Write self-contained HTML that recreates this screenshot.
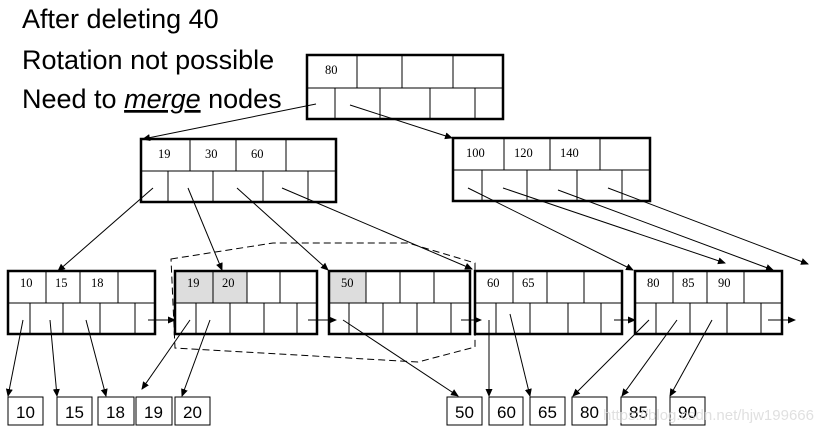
<!DOCTYPE html>
<html><head><meta charset="utf-8"><style>
html,body{margin:0;padding:0;background:#fff;}
svg{display:block;}
.k{font-family:"Liberation Serif",serif;font-size:12.5px;fill:#000;}
.t{font-family:"Liberation Sans",sans-serif;font-size:27px;fill:#000;}
.d{font-family:"Liberation Sans",sans-serif;font-size:17px;fill:#000;}
</style></head><body>
<svg width="835" height="437" viewBox="0 0 835 437" xmlns="http://www.w3.org/2000/svg">
<defs><marker id="a" markerWidth="8" markerHeight="8" refX="7" refY="4" orient="auto" markerUnits="userSpaceOnUse"><path d="M0,0.5 L8,4 L0,7.5 Z" fill="#000"/></marker></defs>
<text class="t" x="22" y="28">After deleting 40</text>
<text class="t" x="22" y="69">Rotation not possible</text>
<text class="t" x="22" y="108">Need to <tspan font-style="italic" text-decoration="underline">merge</tspan> nodes</text>

<g stroke="#000" fill="none">
<g stroke-width="1"><line x1="307" y1="88" x2="503" y2="88"/>
<line x1="357" y1="55" x2="357" y2="88"/><line x1="402" y1="55" x2="402" y2="88"/><line x1="453" y1="55" x2="453" y2="88"/>
<line x1="335" y1="88" x2="335" y2="119"/><line x1="380" y1="88" x2="380" y2="119"/><line x1="430" y1="88" x2="430" y2="119"/><line x1="475" y1="88" x2="475" y2="119"/></g>
<rect x="307" y="55" width="196" height="64" stroke-width="2.5"/>
<g stroke-width="1"><line x1="141" y1="171" x2="336" y2="171"/>
<line x1="190" y1="139" x2="190" y2="171"/><line x1="236" y1="139" x2="236" y2="171"/><line x1="286" y1="139" x2="286" y2="171"/>
<line x1="168" y1="171" x2="168" y2="202"/><line x1="213" y1="171" x2="213" y2="202"/><line x1="263" y1="171" x2="263" y2="202"/><line x1="308" y1="171" x2="308" y2="202"/></g>
<rect x="141" y="139" width="195" height="63" stroke-width="2.5"/>
<g stroke-width="1"><line x1="453" y1="170" x2="650" y2="170"/>
<line x1="504" y1="138" x2="504" y2="170"/><line x1="550" y1="138" x2="550" y2="170"/><line x1="600" y1="138" x2="600" y2="170"/>
<line x1="482" y1="170" x2="482" y2="201"/><line x1="527" y1="170" x2="527" y2="201"/><line x1="577" y1="170" x2="577" y2="201"/><line x1="622" y1="170" x2="622" y2="201"/></g>
<rect x="453" y="138" width="197" height="63" stroke-width="2.5"/>

<rect x="175" y="271" width="72" height="32" fill="#ddd" stroke="none"/>
<rect x="329" y="271" width="37" height="32" fill="#ddd" stroke="none"/>
<g stroke-width="1">
<line x1="8" y1="303" x2="155" y2="303"/><line x1="46" y1="271" x2="46" y2="303"/><line x1="80" y1="271" x2="80" y2="303"/><line x1="118" y1="271" x2="118" y2="303"/>
<line x1="30" y1="303" x2="30" y2="334"/><line x1="63" y1="303" x2="63" y2="334"/><line x1="100" y1="303" x2="100" y2="334"/><line x1="135" y1="303" x2="135" y2="334"/>
<line x1="175" y1="303" x2="317" y2="303"/><line x1="213" y1="271" x2="213" y2="303"/><line x1="247" y1="271" x2="247" y2="303"/><line x1="280" y1="271" x2="280" y2="303"/>
<line x1="196" y1="303" x2="196" y2="334"/><line x1="230" y1="303" x2="230" y2="334"/><line x1="264" y1="303" x2="264" y2="334"/><line x1="297" y1="303" x2="297" y2="334"/>
<line x1="329" y1="303" x2="470" y2="303"/><line x1="366" y1="271" x2="366" y2="303"/><line x1="400" y1="271" x2="400" y2="303"/><line x1="434" y1="271" x2="434" y2="303"/>
<line x1="349" y1="303" x2="349" y2="334"/><line x1="383" y1="303" x2="383" y2="334"/><line x1="417" y1="303" x2="417" y2="334"/><line x1="451" y1="303" x2="451" y2="334"/>
<line x1="475" y1="303" x2="622" y2="303"/><line x1="513" y1="271" x2="513" y2="303"/><line x1="547" y1="271" x2="547" y2="303"/><line x1="584" y1="271" x2="584" y2="303"/>
<line x1="496" y1="303" x2="496" y2="334"/><line x1="530" y1="303" x2="530" y2="334"/><line x1="568" y1="303" x2="568" y2="334"/><line x1="601" y1="303" x2="601" y2="334"/>
<line x1="635" y1="303" x2="782" y2="303"/><line x1="673" y1="271" x2="673" y2="303"/><line x1="707" y1="271" x2="707" y2="303"/><line x1="744" y1="271" x2="744" y2="303"/>
<line x1="656" y1="303" x2="656" y2="334"/><line x1="690" y1="303" x2="690" y2="334"/><line x1="727" y1="303" x2="727" y2="334"/><line x1="761" y1="303" x2="761" y2="334"/>
</g>
<g stroke-width="2.5">
<rect x="8" y="271" width="147" height="63"/>
<rect x="175" y="271" width="142" height="63"/>
<rect x="329" y="271" width="141" height="63"/>
<rect x="475" y="271" width="147" height="63"/>
<rect x="635" y="271" width="147" height="63"/>
</g>
<g stroke-width="1">
<rect x="8" y="397" width="35" height="28"/><rect x="57" y="397" width="35" height="28"/><rect x="98" y="397" width="36" height="28"/>
<rect x="136" y="397" width="36" height="28"/><rect x="175" y="397" width="35" height="28"/>
<rect x="447" y="397" width="35" height="28"/><rect x="489" y="397" width="34" height="28"/><rect x="530" y="397" width="35" height="28"/>
<rect x="572" y="397" width="35" height="28"/><rect x="621" y="397" width="35" height="28"/><rect x="670" y="397" width="35" height="28"/>
</g>
<polygon points="171,259 273,243 408,243 475,263 475,347 418,362 175,348" stroke-width="1" stroke-dasharray="7,4"/>
<g stroke-width="1" marker-end="url(#a)">
<line x1="316" y1="104" x2="143" y2="139"/><line x1="350" y1="105" x2="452" y2="138"/>
<line x1="153" y1="188" x2="58" y2="271"/><line x1="188" y1="188" x2="222" y2="270"/><line x1="237" y1="188" x2="328" y2="270"/><line x1="282" y1="188" x2="472" y2="269"/>
<line x1="468" y1="188" x2="633" y2="270"/><line x1="503" y1="188" x2="725" y2="263"/><line x1="558" y1="190" x2="773" y2="270"/><line x1="608" y1="188" x2="808" y2="264"/>
<line x1="23" y1="320" x2="8" y2="396"/><line x1="50" y1="320" x2="57" y2="396"/><line x1="86" y1="320" x2="106" y2="396"/>
<line x1="148" y1="320" x2="175" y2="320"/><line x1="308" y1="320" x2="336" y2="320"/><line x1="461" y1="320" x2="481" y2="320"/><line x1="614" y1="320" x2="635" y2="320"/><line x1="768" y1="320" x2="795" y2="320"/>
<line x1="190" y1="320" x2="142" y2="389"/><line x1="210" y1="320" x2="182" y2="396"/>
<line x1="343" y1="320" x2="458" y2="396"/>
<line x1="489" y1="320" x2="489" y2="396"/><line x1="510" y1="314" x2="530" y2="396"/>
<line x1="649" y1="320" x2="573" y2="396"/><line x1="677" y1="320" x2="622" y2="396"/><line x1="712" y1="320" x2="670" y2="396"/>
</g>
</g>
<g class="k">
<text x="325" y="74">80</text>
<text x="158" y="158">19</text><text x="205" y="158">30</text><text x="251" y="158">60</text>
<text x="466" y="157">100</text><text x="514" y="157">120</text><text x="560" y="157">140</text>
<text x="20" y="287">10</text><text x="55" y="287">15</text><text x="91" y="287">18</text>
<text x="187" y="287">19</text><text x="222" y="287">20</text>
<text x="341" y="287">50</text>
<text x="487" y="287">60</text><text x="522" y="287">65</text>
<text x="647" y="287">80</text><text x="682" y="287">85</text><text x="718" y="287">90</text>
</g>
<g class="d">
<text x="16" y="418">10</text><text x="65" y="418">15</text><text x="106" y="418">18</text><text x="144" y="418">19</text><text x="183" y="418">20</text>
<text x="455" y="418">50</text><text x="497" y="418">60</text><text x="538" y="418">65</text><text x="580" y="418">80</text><text x="629" y="418">85</text><text x="678" y="418">90</text>
</g>
<text x="603" y="420" font-family="Liberation Sans,sans-serif" font-size="15" fill="#d8d8d8" fill-opacity="0.8">https://blog.csdn.net/hjw199666</text>
</svg>
</body></html>
